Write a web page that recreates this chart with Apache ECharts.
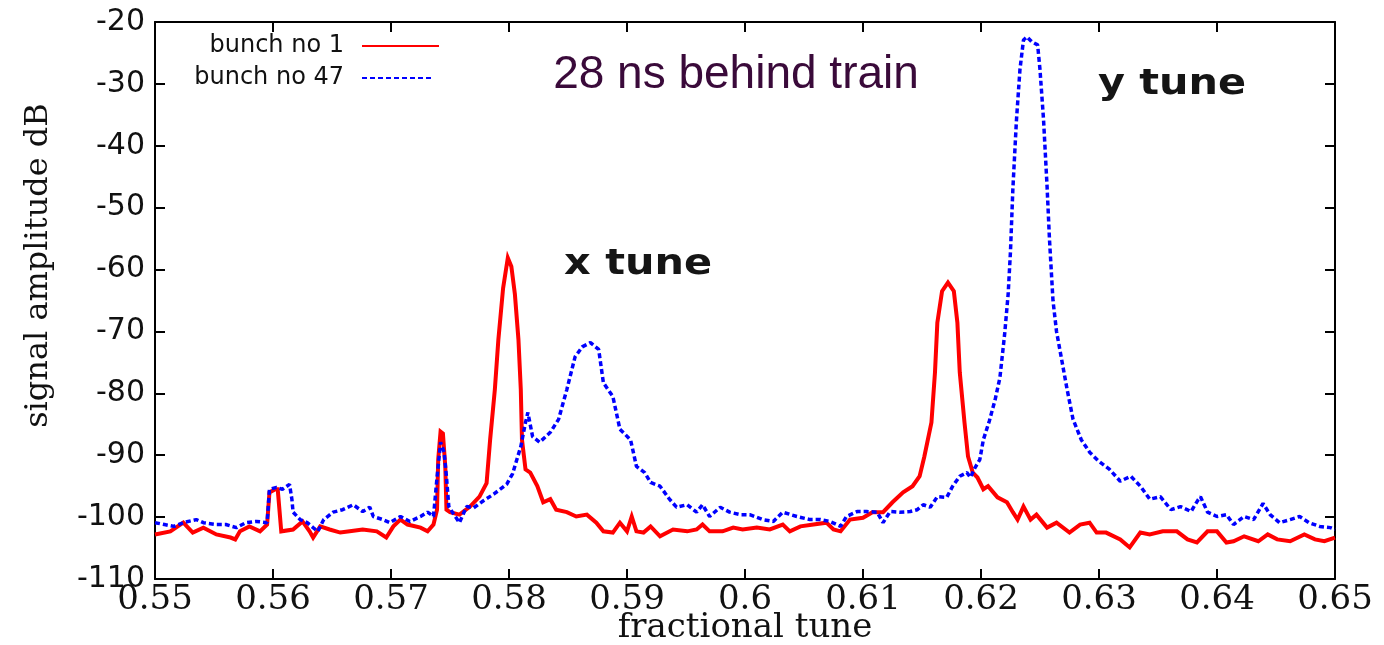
<!DOCTYPE html>
<html>
<head>
<meta charset="utf-8">
<script src="https://cdn.jsdelivr.net/npm/echarts@6/dist/echarts.min.js"></script>
<style>
  html, body { margin: 0; padding: 0; background: #ffffff; }
  #chart { width: 1384px; height: 645px; }
</style>
</head>
<body>
<div id="chart"></div>
<script>
// Spectrum of bunch no 1 (fractional tune, signal amplitude in dB)
const redTune = [
  0.5500, 0.5513, 0.5524, 0.5532, 0.5541, 0.5552, 0.5564, 0.5568, 0.5572, 0.5580,
  0.5589, 0.5595, 0.5597, 0.5602, 0.5604, 0.5607, 0.5617, 0.5625, 0.5631, 0.5634,
  0.5640, 0.5648, 0.5657, 0.5665, 0.5676, 0.5688, 0.5696, 0.5702, 0.5708, 0.5714,
  0.5725, 0.5731, 0.5736, 0.5739, 0.5740, 0.5742, 0.5744, 0.5746, 0.5747, 0.5750,
  0.5758, 0.5767, 0.5775, 0.5781, 0.5784, 0.5788, 0.5791, 0.5795, 0.5799, 0.5802,
  0.5805, 0.5808, 0.5810, 0.5811, 0.5814, 0.5818, 0.5824, 0.5829, 0.5835, 0.5840,
  0.5849, 0.5857, 0.5866, 0.5874, 0.5880, 0.5888, 0.5894, 0.5900, 0.5904, 0.5908,
  0.5914, 0.5920, 0.5928, 0.5939, 0.5951, 0.5959, 0.5964, 0.5970, 0.5981, 0.5990,
  0.5998, 0.6010, 0.6021, 0.6032, 0.6038, 0.6047, 0.6058, 0.6069, 0.6075, 0.6081,
  0.6089, 0.6100, 0.6108, 0.6117, 0.6125, 0.6134, 0.6142, 0.6148, 0.6152, 0.6158,
  0.6161, 0.6163, 0.6167, 0.6172, 0.6177, 0.6180, 0.6182, 0.6186, 0.6189, 0.6193,
  0.6197, 0.6202, 0.6206, 0.6214, 0.6222, 0.6227, 0.6231, 0.6236, 0.6242, 0.6247,
  0.6256, 0.6264, 0.6275, 0.6284, 0.6292, 0.6298, 0.6306, 0.6318, 0.6326, 0.6335,
  0.6343, 0.6354, 0.6366, 0.6375, 0.6383, 0.6392, 0.6400, 0.6408, 0.6414, 0.6423,
  0.6435, 0.6443, 0.6451, 0.6462, 0.6474, 0.6483, 0.6491, 0.6500
];
const redDb = [
  -102.8, -102.3, -100.9, -102.5, -101.7, -102.8, -103.3, -103.6, -102.3, -101.5,
  -102.3, -101.2, -96.0, -95.5, -95.5, -102.3, -102.0, -100.7, -102.3, -103.3,
  -101.5, -102.0, -102.5, -102.3, -102.0, -102.3, -103.3, -101.5, -100.4, -101.2,
  -101.7, -102.3, -101.2, -98.8, -90.7, -86.2, -86.5, -91.8, -98.8, -99.2,
  -99.6, -98.3, -96.7, -94.5, -87.5, -79.4, -71.3, -63.0, -58.1, -59.5,
  -64.0, -71.3, -79.4, -87.5, -92.3, -92.8, -95.0, -97.6, -97.1, -98.8,
  -99.2, -99.9, -99.6, -100.9, -102.3, -102.5, -100.9, -102.3, -99.9, -102.3,
  -102.5, -101.5, -103.1, -102.0, -102.3, -102.0, -101.2, -102.3, -102.3, -101.7,
  -102.0, -101.7, -102.0, -101.2, -102.3, -101.5, -101.2, -100.9, -102.0, -102.3,
  -100.4, -100.1, -99.2, -99.2, -97.6, -96.0, -95.0, -93.4, -90.2, -84.7,
  -76.6, -68.6, -63.5, -62.1, -63.5, -68.6, -76.6, -84.7, -90.2, -92.8,
  -93.6, -95.5, -95.0, -96.8, -97.6, -99.2, -100.4, -98.3, -100.4, -99.6,
  -101.7, -100.9, -102.5, -101.2, -100.9, -102.5, -102.5, -103.6, -104.9, -102.5,
  -102.8, -102.3, -102.3, -103.6, -104.1, -102.3, -102.3, -104.1, -103.9, -103.1,
  -103.9, -102.8, -103.6, -103.9, -102.8, -103.6, -103.9, -103.3
];

// Spectrum of bunch no 47
const blueTune = [
  0.5500, 0.5508, 0.5516, 0.5524, 0.5535, 0.5541, 0.5552, 0.5560, 0.5569, 0.5577,
  0.5586, 0.5595, 0.5597, 0.5603, 0.5608, 0.5614, 0.5616, 0.5617, 0.5623, 0.5629,
  0.5634, 0.5638, 0.5643, 0.5651, 0.5659, 0.5668, 0.5676, 0.5682, 0.5685, 0.5693,
  0.5699, 0.5708, 0.5716, 0.5725, 0.5731, 0.5736, 0.5739, 0.5742, 0.5745, 0.5747,
  0.5749, 0.5752, 0.5758, 0.5764, 0.5770, 0.5778, 0.5787, 0.5798, 0.5803, 0.5810,
  0.5814, 0.5816, 0.5820, 0.5826, 0.5835, 0.5842, 0.5849, 0.5856, 0.5862, 0.5869,
  0.5876, 0.5880, 0.5888, 0.5894, 0.5903, 0.5908, 0.5915, 0.5920, 0.5928, 0.5936,
  0.5942, 0.5951, 0.5959, 0.5964, 0.5970, 0.5979, 0.5987, 0.5996, 0.6004, 0.6015,
  0.6024, 0.6032, 0.6044, 0.6055, 0.6064, 0.6072, 0.6081, 0.6086, 0.6095, 0.6103,
  0.6112, 0.6117, 0.6123, 0.6131, 0.6140, 0.6146, 0.6151, 0.6157, 0.6163, 0.6171,
  0.6176, 0.6182, 0.6188, 0.6191, 0.6195, 0.6199, 0.6202, 0.6207, 0.6212, 0.6216,
  0.6220, 0.6223, 0.6225, 0.6227, 0.6230, 0.6233, 0.6236, 0.6239, 0.6243, 0.6248,
  0.6250, 0.6253, 0.6256, 0.6258, 0.6261, 0.6264, 0.6273, 0.6278, 0.6285, 0.6292,
  0.6300, 0.6309, 0.6318, 0.6327, 0.6335, 0.6343, 0.6352, 0.6361, 0.6369, 0.6378,
  0.6384, 0.6386, 0.6392, 0.6400, 0.6408, 0.6414, 0.6423, 0.6431, 0.6439, 0.6445,
  0.6453, 0.6462, 0.6470, 0.6478, 0.6487, 0.6496, 0.6500
];
const blueDb = [
  -100.9, -101.2, -101.5, -100.9, -100.4, -100.9, -101.2, -101.2, -101.7, -100.9,
  -100.7, -100.9, -95.5, -95.2, -95.5, -94.7, -97.1, -99.2, -100.4, -100.9,
  -101.7, -102.3, -100.4, -99.2, -98.8, -98.0, -99.1, -98.4, -99.9, -100.4,
  -100.9, -99.9, -100.7, -99.9, -99.2, -99.9, -93.6, -87.9, -89.5, -93.5,
  -98.3, -99.2, -100.9, -98.3, -98.5, -97.4, -96.3, -94.7, -93.0, -88.6,
  -84.7, -83.1, -87.0, -87.9, -86.3, -84.2, -79.4, -74.1, -72.5, -71.8,
  -72.9, -78.3, -80.5, -85.8, -87.5, -91.8, -92.8, -94.4, -95.0, -97.1,
  -98.4, -98.0, -99.2, -98.0, -99.9, -98.4, -99.2, -99.6, -99.6, -100.4,
  -100.7, -99.2, -99.9, -100.4, -100.4, -100.7, -101.5, -99.9, -99.1, -99.1,
  -99.2, -100.9, -99.1, -99.2, -99.1, -98.8, -98.0, -98.4, -96.7, -96.8,
  -95.0, -93.4, -92.8, -93.6, -92.0, -90.7, -87.5, -84.5, -81.0, -77.5,
  -70.5, -64.0, -57.0, -47.0, -36.0, -27.7, -22.9, -22.4, -23.2, -23.7,
  -27.7, -35.8, -46.6, -55.0, -65.0, -70.0, -79.4, -84.2, -87.5, -89.5,
  -91.0, -92.3, -94.2, -93.4, -95.0, -97.1, -96.7, -98.8, -98.3, -99.1,
  -97.2, -96.7, -99.2, -99.9, -99.6, -101.2, -99.9, -100.4, -97.8, -99.6,
  -100.9, -100.4, -99.9, -100.9, -101.5, -101.7, -102.0
];

const seriesNames = ['bunch no 1', 'bunch no 47'];
const tuneRange = [0.55, 0.65, 0.01];   // min, max, tick step
const dbRange = [-110, -20, 10];        // min, max, tick step
const notes = ['28 ns behind train', 'x tune', 'y tune'];

const toPairs = (xs, ys) => xs.map((x, i) => [x, ys[i]]);

const chart = echarts.init(document.getElementById('chart'), null, { renderer: 'canvas' });

const frameAxis = {
  axisLine: { show: true, lineStyle: { color: '#000', width: 2 } },
  axisTick: { show: true, inside: true, length: 10, lineStyle: { color: '#000', width: 2 } },
  splitLine: { show: false },
  minorTick: { show: false }
};

// legend rows: text on the left, line sample on the right
const legendRow = (name, rightEdge, top, sampleWidth) => ({
  data: [name],
  orient: 'vertical',
  align: 'right',
  right: rightEdge,
  top: top,
  padding: 0,
  itemWidth: sampleWidth,
  itemHeight: 14,
  selectedMode: false,
  lineStyle: { width: 2 },
  itemStyle: { opacity: 0 },
  textStyle: { fontFamily: 'DejaVu Sans', fontSize: 24, color: '#111', lineHeight: 26, padding: [0, 13, 0, 0] }
});

const option = {
  backgroundColor: '#ffffff',
  animation: false,
  grid: {
    left: 155, right: 49, top: 22, bottom: 66,
    show: false, containLabel: false, outerBoundsMode: 'none'
  },
  legend: [
    legendRow(seriesNames[0], 944, 33, 77),
    legendRow(seriesNames[1], 949, 65, 72)
  ],
  xAxis: [
    Object.assign({}, frameAxis, {
      type: 'value',
      position: 'bottom',
      min: tuneRange[0], max: tuneRange[1], interval: tuneRange[2],
      name: 'fractional tune',
      nameLocation: 'middle',
      nameGap: 32,
      nameMoveOverlap: false,
      nameTextStyle: { fontFamily: 'DejaVu Serif', fontSize: 34, color: '#111' },
      axisLabel: {
        show: true, margin: 4, showMinLabel: true, showMaxLabel: true,
        fontFamily: 'DejaVu Serif', fontSize: 34, color: '#111'
      }
    }),
    Object.assign({}, frameAxis, {
      type: 'value',
      position: 'top',
      min: tuneRange[0], max: tuneRange[1], interval: tuneRange[2],
      axisLabel: { show: false }
    })
  ],
  yAxis: [
    Object.assign({}, frameAxis, {
      type: 'value',
      position: 'left',
      min: dbRange[0], max: dbRange[1], interval: dbRange[2],
      name: 'signal amplitude dB',
      nameLocation: 'middle',
      nameGap: 100,
      nameRotate: 90,
      nameMoveOverlap: false,
      nameTextStyle: {
        fontFamily: 'DejaVu Serif', fontSize: 32, color: '#111',
        padding: [0, 0, 0, 70]
      },
      axisLabel: {
        show: true, margin: 10, showMinLabel: true, showMaxLabel: true,
        fontFamily: 'DejaVu Sans', fontSize: 30, color: '#111'
      }
    }),
    Object.assign({}, frameAxis, {
      type: 'value',
      position: 'right',
      min: dbRange[0], max: dbRange[1], interval: dbRange[2],
      axisLabel: { show: false }
    })
  ],
  series: [
    {
      name: seriesNames[0],
      type: 'line',
      xAxisIndex: 0, yAxisIndex: 0,
      data: toPairs(redTune, redDb),
      symbol: 'none',
      showSymbol: false,
      clip: true,
      color: '#ff0000',
      lineStyle: { color: '#ff0000', width: 4, join: 'miter' },
      z: 2
    },
    {
      name: seriesNames[1],
      type: 'line',
      xAxisIndex: 0, yAxisIndex: 0,
      data: toPairs(blueTune, blueDb),
      symbol: 'none',
      showSymbol: false,
      clip: true,
      color: '#0000ff',
      lineStyle: { color: '#0000ff', width: 3.5, type: [5, 3] },
      z: 3
    }
  ],
  graphic: [
    {
      type: 'text', x: 736, y: 75, z: 10,
      style: { text: notes[0], fill: '#3a0a3a', font: '46px "Liberation Sans"', align: 'center', verticalAlign: 'middle' }
    },
    {
      type: 'text', x: 638, y: 265, z: 10, scaleX: 1.15,
      style: { text: notes[1], fill: '#151515', font: 'bold 36px "DejaVu Sans"', align: 'center', verticalAlign: 'middle' }
    },
    {
      type: 'text', x: 1172, y: 85, z: 10, scaleX: 1.15,
      style: { text: notes[2], fill: '#151515', font: 'bold 36px "DejaVu Sans"', align: 'center', verticalAlign: 'middle' }
    }
  ]
};

chart.setOption(option);
</script>
</body>
</html>
